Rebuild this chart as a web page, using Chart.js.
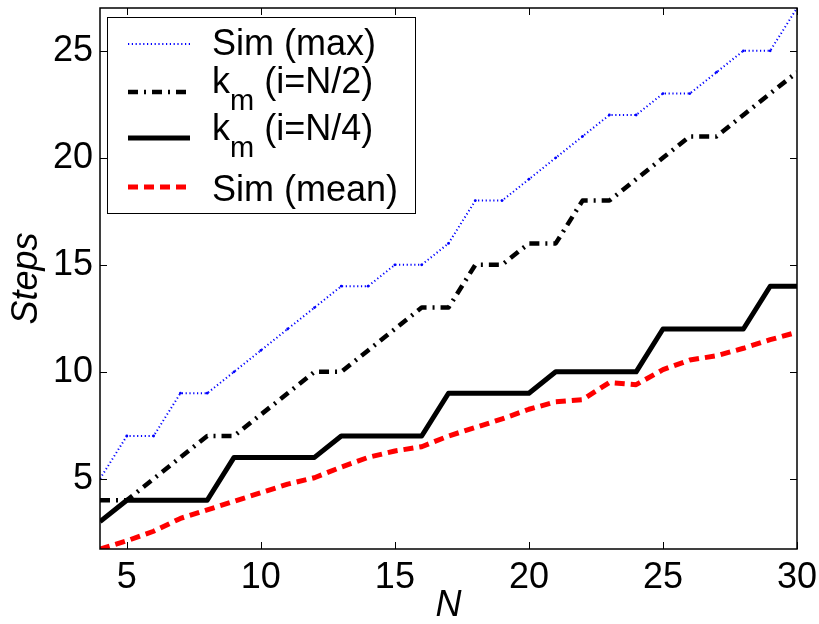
<!DOCTYPE html>
<html>
<head>
<meta charset="utf-8">
<style>
  html, body { margin: 0; padding: 0; background: #fff; }
  #wrap { width: 819px; height: 624px; }
</style>
<script src="https://cdn.jsdelivr.net/npm/chart.js@4.4.1/dist/chart.umd.min.js"></script>
</head>
<body>
<div id="wrap"><canvas id="myChart"></canvas></div>
<script>
const nValues = [4, 5, 6, 7, 8, 9, 10, 11, 12, 13, 14, 15, 16, 17, 18, 19, 20, 21, 22, 23, 24, 25, 26, 27, 28, 29, 30];
const simMax = [5, 7, 7, 9, 9, 10, 11, 12, 13, 14, 14, 15, 15, 16, 18, 18, 19, 20, 21, 22, 22, 23, 23, 24, 25, 25, 27];
const kmHalf = [4, 4, 5, 6, 7, 7, 8, 9, 10, 10, 11, 12, 13, 13, 15, 15, 16, 16, 18, 18, 19, 20, 21, 21, 22, 23, 24];
const kmQuarter = [3, 4, 4, 4, 4, 6, 6, 6, 6, 7, 7, 7, 7, 9, 9, 9, 9, 10, 10, 10, 10, 12, 12, 12, 12, 14, 14];
const simMean = [1.72, 2.1, 2.55, 3.15, 3.55, 3.95, 4.35, 4.75, 5.05, 5.55, 6.0, 6.3, 6.5, 7.0, 7.4, 7.8, 8.25, 8.6, 8.7, 9.5, 9.4, 10.1, 10.55, 10.75, 11.1, 11.5, 11.85];
const xTicks = [5, 10, 15, 20, 25, 30];
const yTicks = [5, 10, 15, 20, 25];

const FONT = "'Liberation Sans', Arial, Helvetica, sans-serif";

function pts(arr) {
    return arr.map((v, i) => ({ x: nValues[i], y: v }));
}

// legend rows: main text, subscript, rest
const legendRows = [
    { main: 'Sim (max)', sub: '', rest: '' },
    { main: 'k', sub: 'm', rest: ' (i=N/2)' },
    { main: 'k', sub: 'm', rest: ' (i=N/4)' },
    { main: 'Sim (mean)', sub: '', rest: '' }
];

// box, inner ticks and legend, matlab style
const matlabAxes = {
    id: 'matlabAxes',
    afterDatasetsDraw(chart) {
        const ctx = chart.ctx;
        const a = chart.chartArea;
        const xs = chart.scales.x, ys = chart.scales.y;
        ctx.save();
        ctx.strokeStyle = '#000';
        ctx.lineWidth = 1;
        ctx.setLineDash([]);
        const tl = 7;
        ctx.beginPath();
        xTicks.forEach(function (t) {
            const px = Math.round(xs.getPixelForValue(t)) + 0.5;
            ctx.moveTo(px, a.bottom); ctx.lineTo(px, a.bottom - tl);
            ctx.moveTo(px, a.top); ctx.lineTo(px, a.top + tl);
        });
        yTicks.forEach(function (t) {
            const py = Math.round(ys.getPixelForValue(t)) + 0.5;
            ctx.moveTo(a.left, py); ctx.lineTo(a.left + tl, py);
            ctx.moveTo(a.right, py); ctx.lineTo(a.right - tl, py);
        });
        ctx.stroke();
        ctx.lineWidth = 1.5;
        ctx.strokeRect(a.left, a.top, a.right - a.left, a.bottom - a.top);

        // legend
        const bx = a.left + 7, by = a.top + 9, bw = 308, bh = 196;
        ctx.fillStyle = '#fff';
        ctx.fillRect(bx, by, bw, bh);
        ctx.lineWidth = 1;
        ctx.strokeRect(bx + 0.5, by + 0.5, bw, bh);
        const lineY = [27, 75, 121, 170];
        const baseY = [38, 76, 123, 184];
        chart.data.datasets.forEach(function (ds, i) {
            const row = legendRows[i];
            const ly = by + lineY[i];
            ctx.strokeStyle = ds.borderColor;
            ctx.lineWidth = ds.borderWidth;
            ctx.setLineDash(ds.borderDash || []);
            ctx.beginPath();
            ctx.moveTo(bx + 21, ly);
            ctx.lineTo(bx + 83, ly);
            ctx.stroke();
            ctx.setLineDash([]);
            ctx.fillStyle = '#000';
            ctx.textBaseline = 'alphabetic';
            ctx.textAlign = 'left';
            let tx = bx + 105;
            const ty = by + baseY[i];
            ctx.font = '36px ' + FONT;
            ctx.fillText(row.main, tx, ty);
            tx += ctx.measureText(row.main).width;
            if (row.sub) {
                ctx.font = '29px ' + FONT;
                ctx.fillText(row.sub, tx, ty + 17);
                tx += ctx.measureText(row.sub).width;
                ctx.font = '36px ' + FONT;
                ctx.fillText(row.rest, tx, ty);
            }
        });
        ctx.restore();
    }
};

new Chart(document.getElementById('myChart'), {
    type: 'line',
    data: {
        datasets: [{
            label: 'Sim (max)',
            data: pts(simMax),
            borderColor: 'rgb(0, 0, 255)',
            backgroundColor: 'rgb(0, 0, 255)',
            borderWidth: 2,
            borderDash: [1.2, 2.6],
            pointRadius: 1.4,
            pointBorderWidth: 0
        },
        {
            label: 'k_m (i=N/2)',
            data: pts(kmHalf),
            borderColor: '#000',
            borderWidth: 4.5,
            borderDash: [10, 6, 2, 6],
            pointRadius: 0
        },
        {
            label: 'k_m (i=N/4)',
            data: pts(kmQuarter),
            borderColor: '#000',
            borderWidth: 5,
            pointRadius: 0
        },
        {
            label: 'Sim (mean)',
            data: pts(simMean),
            borderColor: 'rgb(255, 0, 0)',
            borderWidth: 5,
            borderDash: [10, 6],
            pointRadius: 0
        }]
    },
    options: {
        responsive: true,
        maintainAspectRatio: false,
        animation: false,
        devicePixelRatio: 1,
        layout: { padding: { top: 8, right: 22, left: 0, bottom: 0 } },
        plugins: { legend: { display: false }, tooltip: { enabled: false } },
        elements: { line: { tension: 0, borderCapStyle: 'butt', borderJoinStyle: 'round' } },
        scales: {
            x: {
                type: 'linear',
                min: 4,
                max: 30,
                afterBuildTicks: (s) => { s.ticks = xTicks.map(v => ({ value: v })); },
                afterFit: (s) => { s.height = 75; s.paddingLeft = 0; s.paddingRight = 0; },
                grid: { display: false, drawTicks: false },
                border: { display: false },
                ticks: { color: '#000', padding: 7, font: { family: FONT, size: 36 } },
                title: {
                    display: true, text: 'N', color: '#000', padding: { top: 0, bottom: 0 },
                    font: { family: FONT, size: 36, style: 'italic', lineHeight: 1 }
                }
            },
            y: {
                min: 1.72,
                max: 27,
                afterBuildTicks: (s) => { s.ticks = yTicks.map(v => ({ value: v })); },
                afterFit: (s) => { s.width = 100; s.paddingTop = 0; s.paddingBottom = 0; },
                grid: { display: false, drawTicks: false },
                border: { display: false },
                ticks: { color: '#000', padding: 7, font: { family: FONT, size: 36 } },
                title: {
                    display: true, text: 'Steps', color: '#000', padding: { top: 9, bottom: 0 },
                    font: { family: FONT, size: 36, style: 'italic', lineHeight: 1 }
                }
            }
        }
    },
    plugins: [matlabAxes]
});
</script>
</body>
</html>
